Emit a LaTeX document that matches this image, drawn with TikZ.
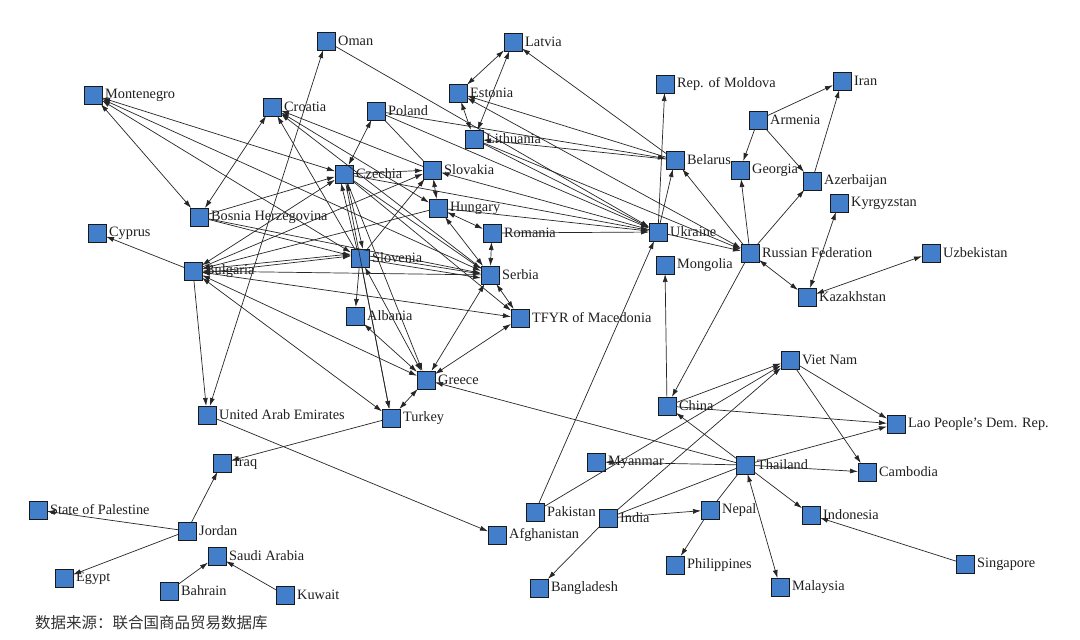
\documentclass[tikz,border=0pt]{standalone}
\usepackage{fontspec}
\setmainfont{Liberation Serif}
\newfontfamily\cjk{Noto Sans CJK SC}
\usetikzlibrary{arrows.meta}
\definecolor{boxblue}{HTML}{427EC9}
\definecolor{linegray}{HTML}{262626}
\tikzset{
  country/.style={rectangle, draw=black!90, line width=1pt, fill=boxblue, minimum size=18pt, inner sep=0pt, outer sep=0pt},
  lab/.style={font=\fontsize{14.3}{14.3}\selectfont, text=black!88, inner sep=0pt},
  edge/.style={draw=linegray, line width=0.7pt, -{Latex[length=8pt,width=5pt]}},
  bi/.style={draw=linegray, line width=0.7pt, {Latex[length=8pt,width=5pt]}-{Latex[length=8pt,width=5pt]}},
  plain/.style={draw=linegray, line width=0.7pt},
}
\newcommand{\cty}[4]{\node[country, label={[lab, label distance=3pt]right:#4}] (#1) at (#2,#3) {};}
\begin{document}
\begin{tikzpicture}[x=1pt,y=-1pt]
\useasboundingbox[fill=white] (0,0) rectangle (1080,640);
% nodes
\cty{om}{326}{41}{Oman}
\cty{lv}{513}{42}{Latvia}
\cty{mne}{93}{95}{Montenegro}
\cty{hr}{272}{107}{Croatia}
\cty{pl}{376}{111}{Poland}
\cty{ee}{458}{93}{Estonia}
\cty{lt}{474}{139}{Lithuania}
\cty{md}{665}{84}{Rep. of Moldova}
\cty{ir}{842}{81}{Iran}
\cty{am}{758}{120}{Armenia}
\cty{by}{675}{160}{Belarus}
\cty{ge}{740}{170}{Georgia}
\cty{az}{812}{181}{Azerbaijan}
\cty{cz}{344}{174}{Czechia}
\cty{sk}{432}{170}{Slovakia}
\cty{hu}{438}{208}{Hungary}
\cty{ba}{199}{217}{Bosnia Herzegovina}
\cty{cy}{97}{233}{Cyprus}
\cty{ro}{492}{233}{Romania}
\cty{ua}{658}{232}{Ukraine}
\cty{kg}{839}{203}{Kyrgyzstan}
\cty{ru}{750}{253}{Russian Federation}
\cty{uz}{931}{253}{Uzbekistan}
\cty{bg}{193}{271}{Bulgaria}
\cty{si}{360}{258}{Slovenia}
\cty{rs}{490}{275}{Serbia}
\cty{mn}{665}{265}{Mongolia}
\cty{kz}{807}{297}{Kazakhstan}
\cty{al}{355}{316}{Albania}
\cty{mk}{520}{318}{TFYR of Macedonia}
\cty{vn}{790}{360}{Viet Nam}
\cty{gr}{426}{380}{Greece}
\cty{cn}{667}{406}{China}
\cty{ae}{207}{415}{United Arab Emirates}
\cty{tr}{391}{418}{Turkey}
\cty{la}{896}{424}{Lao People’s Dem. Rep.}
\cty{th}{745}{465}{Thailand}
\cty{iq}{222}{463}{Iraq}
\cty{mm}{596}{462}{Myanmar}
\cty{kh}{867}{472}{Cambodia}
\cty{ps}{38}{510}{State of Palestine}
\cty{pk}{535}{512}{Pakistan}
\cty{in}{608}{518}{India}
\cty{np}{710}{510}{Nepal}
\cty{id}{811}{515}{Indonesia}
\cty{jo}{187}{531}{Jordan}
\cty{af}{497}{535}{Afghanistan}
\cty{sa}{217}{556}{Saudi Arabia}
\cty{ph}{675}{565}{Philippines}
\cty{sg}{965}{564}{Singapore}
\cty{eg}{64}{578}{Egypt}
\cty{bd}{539}{588}{Bangladesh}
\cty{my}{780}{587}{Malaysia}
\cty{bh}{169}{591}{Bahrain}
\cty{kw}{285}{595}{Kuwait}
% Middle East
\draw[bi] (ae) -- (om);
\draw[edge] (bg) -- (ae);
\draw[edge] (ae) -- (af);
\draw[edge] (tr) -- (iq);
\draw[edge] (jo) -- (iq);
\draw[edge] (jo) -- (ps);
\draw[edge] (jo) -- (eg);
\draw[edge] (bh) -- (sa);
\draw[edge] (kw) -- (sa);
% Europe
\draw[bi] (mne) -- (ba);
\draw[bi] (mne) -- (cz);
\draw[bi] (mne) -- (si);
\draw[bi] (mne) -- (rs);
\draw[bi] (hr) -- (ba);
\draw[edge] (sk) -- (hr);
\draw[bi] (hr) -- (hu);
\draw[edge] (rs) -- (hr);
\draw[edge] (si) -- (hr);
\draw[bi] (pl) -- (cz);
\draw[plain] (pl) -- (sk);
\draw[edge] (pl) -- (ua);
\draw[edge] (pl) -- (by);
\draw[bi] (lv) -- (ee);
\draw[bi] (lv) -- (lt);
\draw[bi] (ee) -- (lt);
\draw[edge] (by) -- (lv);
\draw[edge] (by) -- (ee);
\draw[edge] (by) -- (lt);
\draw[bi] (ee) -- (ru);
\draw[edge] (lt) -- (ua);
\draw[edge] (lt) -- (ru);
\draw[edge] (om) -- (ua);
\draw[edge] (cz) -- (sk);
\draw[edge] ([xshift=-3pt]si.north) -- ([xshift=-3pt]cz.south);
\draw[bi] ([xshift=3pt]si.north) -- ([xshift=3pt]cz.south);
\draw[edge] (cz) -- (rs);
\draw[edge] (cz) -- (mk);
\draw[edge] (cz) -- (gr);
\draw[edge] (cz) -- (tr);
\draw[edge] (cz) -- (ua);
\draw[edge] (ba) -- (cz);
\draw[edge] (ba) -- (si);
\draw[edge] (ba) -- (rs);
\draw[bi] (bg) -- (cz);
\draw[edge] (bg) -- (sk);
\draw[edge] (hu) -- (bg);
\draw[bi] ([yshift=-2pt]bg.east) -- ([yshift=2pt]si.west);
\draw[edge] ([yshift=2pt]bg.east) -- ([yshift=4pt]si.west);
\draw[edge] (rs) -- (bg);
\draw[bi] (bg) -- (mk);
\draw[bi] (bg) -- (gr);
\draw[bi] (bg) -- (tr);
\draw[edge] (bg) -- (cy);
\draw[bi] (sk) -- (hu);
\draw[edge] (si) -- (sk);
\draw[edge] (ua) -- (sk);
\draw[bi] (hu) -- (ro);
\draw[bi] (hu) -- (rs);
\draw[edge] (hu) -- (ua);
\draw[bi] (ro) -- (rs);
\draw[edge] (ro) -- (ua);
\draw[edge] ([yshift=-2pt]si.east) -- ([yshift=-3pt]rs.west);
\draw[edge] ([yshift=2pt]si.east) -- ([yshift=1pt]rs.west);
\draw[edge] (si) -- (al);
\draw[bi] (si) -- (gr);
\draw[edge] (si) -- (tr);
\draw[bi] (rs) -- (mk);
\draw[bi] (rs) -- (gr);
\draw[bi] (mk) -- (gr);
\draw[bi] (al) -- (gr);
\draw[bi] (gr) -- (tr);
\draw[edge] (th) -- (gr);
% Asia
\draw[edge] (ua) -- (md);
\draw[edge] (ua) -- (by);
\draw[edge] (ua) -- (ru);
\draw[edge] (pk) -- (ua);
\draw[edge] (ru) -- (by);
\draw[edge] (ru) -- (ge);
\draw[edge] (ru) -- (az);
\draw[bi] (ru) -- (kz);
\draw[edge] (ru) -- (cn);
\draw[edge] (am) -- (ir);
\draw[edge] (am) -- (ge);
\draw[edge] (am) -- (az);
\draw[edge] (az) -- (ir);
\draw[bi] (kz) -- (kg);
\draw[bi] (kz) -- (uz);
\draw[edge] (cn) -- (mn);
\draw[edge] (cn) -- (vn);
\draw[edge] (cn) -- (la);
\draw[edge] (th) -- (cn);
\draw[edge] (th) -- (mm);
\draw[edge] (th) -- (la);
\draw[edge] (th) -- (kh);
\draw[edge] (th) -- (id);
\draw[bi] (th) -- (my);
\draw[plain] (np) -- (th);
\draw[plain] (in) -- (th);
\draw[edge] (pk) -- (vn);
\draw[edge] (in) -- (vn);
\draw[edge] (in) -- (np);
\draw[edge] (in) -- (bd);
\draw[edge] (np) -- (ph);
\draw[edge] (vn) -- (la);
\draw[edge] (vn) -- (kh);
\draw[edge] (sg) -- (id);
% caption
\node[anchor=west, inner sep=0pt, font=\cjk\fontsize{15.5}{16}\selectfont, text=black!80] (src) at (35,623) {数据来源：联合国商品贸易数据库};
\end{tikzpicture}
\end{document}
